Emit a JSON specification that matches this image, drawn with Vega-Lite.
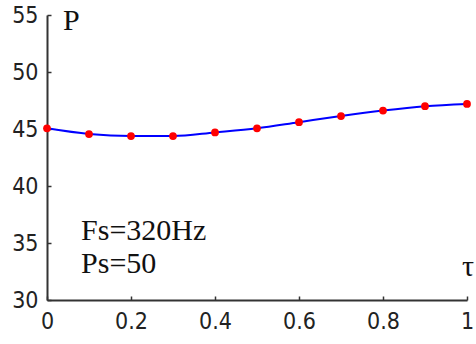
{
  "$schema": "https://vega.github.io/schema/vega-lite/v6.json",
  "width": 420,
  "height": 285,
  "autosize": {"type": "none"},
  "padding": {"left": 47, "top": 15, "right": 9, "bottom": 44},
  "background": "white",
  "config": {"view": {"stroke": null}},
  "datasets": {
    "curve": [
      {"tau": 0.0, "P": 45.06},
      {"tau": 0.1, "P": 44.56},
      {"tau": 0.2, "P": 44.38},
      {"tau": 0.3, "P": 44.38},
      {"tau": 0.4, "P": 44.7},
      {"tau": 0.5, "P": 45.06},
      {"tau": 0.6, "P": 45.6},
      {"tau": 0.7, "P": 46.14},
      {"tau": 0.8, "P": 46.62},
      {"tau": 0.9, "P": 47.0},
      {"tau": 1.0, "P": 47.2}
    ],
    "labels": [
      {"tau": 0.038, "P": 53.68, "text": "P"},
      {"tau": 0.081, "P": 35.26, "text": "Fs=320Hz"},
      {"tau": 0.081, "P": 32.37, "text": "Ps=50"},
      {"tau": 0.988, "P": 32.1, "text": "τ"}
    ]
  },
  "layer": [
    {
      "data": {"name": "curve"},
      "mark": {"type": "line", "color": "#0000ff", "strokeWidth": 2, "interpolate": "monotone", "clip": false},
      "encoding": {
        "x": {
          "field": "tau", "type": "quantitative",
          "scale": {"domain": [0, 1], "nice": false, "zero": false},
          "axis": {
            "title": null, "grid": false, "values": [0, 0.2, 0.4, 0.6, 0.8, 1], "format": "~g",
            "domainColor": "#333333", "domainWidth": 2, "tickColor": "#333333", "tickWidth": 1.5,
            "tickSize": -4, "labelPadding": 14, "labelFont": "DejaVu Sans Condensed", "labelFontSize": 23,
            "labelColor": "#222222", "labelFlush": false
          }
        },
        "y": {
          "field": "P", "type": "quantitative",
          "scale": {"domain": [30, 55], "nice": false, "zero": false},
          "axis": {
            "title": null, "grid": false, "values": [30, 35, 40, 45, 50, 55],
            "domainColor": "#333333", "domainWidth": 2, "tickColor": "#333333", "tickWidth": 1.5,
            "tickSize": -4, "labelPadding": 13, "labelFont": "DejaVu Sans Condensed", "labelFontSize": 23,
            "labelColor": "#222222", "labelFlush": false
          }
        }
      }
    },
    {
      "data": {"name": "curve"},
      "mark": {"type": "circle", "color": "#ff0000", "opacity": 1, "size": 60, "clip": false},
      "encoding": {
        "x": {"field": "tau", "type": "quantitative"},
        "y": {"field": "P", "type": "quantitative"}
      }
    },
    {
      "data": {"name": "labels"},
      "mark": {"type": "text", "font": "Liberation Serif", "fontSize": 30, "align": "left", "baseline": "alphabetic", "color": "#111111", "clip": false},
      "encoding": {
        "x": {"field": "tau", "type": "quantitative"},
        "y": {"field": "P", "type": "quantitative"},
        "text": {"field": "text"}
      }
    }
  ]
}
